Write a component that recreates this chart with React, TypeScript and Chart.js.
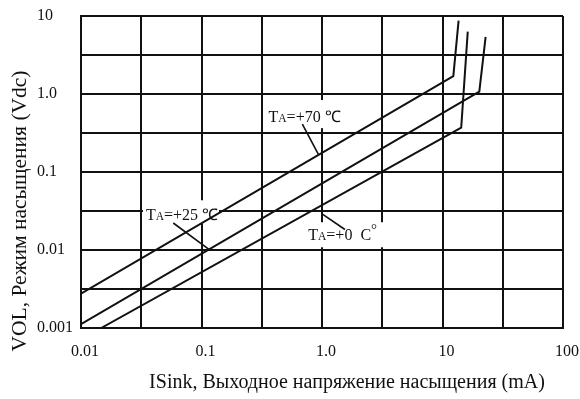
import React, { useEffect, useRef } from 'react';
import { Chart, registerables } from 'chart.js';

Chart.register(...registerables);

// Grid / tick positions (log scale, half-decade grid)
const xTickValues = [0.01, 0.0316, 0.1, 0.316, 1, 3.16, 10, 31.6, 100];
const xTickLabels = ['0.01', '', '0.1', '', '1.0', '', '10', '', '100'];
const yTickValues = [0.001, 0.00316, 0.01, 0.0316, 0.1, 0.316, 1, 3.16, 10];
const yTickLabels = ['0.001', '', '0.01', '', '0.1', '', '1.0', '', '10'];

// Series: ISink (mA) vs VOL (Vdc)
const seriesNames = ['TA=+70 ℃', 'TA=+25 ℃', 'TA=+0 ℃'];
const ta70I = [0.01, 12.3, 13.6];
const ta70V = [0.00275, 1.7, 8.7];
const ta25I = [0.01, 20.2, 22.8];
const ta25V = [0.00112, 1.07, 5.4];
const ta0I = [0.0147, 14.3, 16.2];
const ta0V = [0.001, 0.37, 6.3];

const xTitle = 'ISink, Выходное напряжение насыщения (mA)';
const yTitle = 'VOL, Режим насыщения (Vdc)';

// Annotation layout (in data coordinates)
const annotations = [
  { pre: 'T', sub: 'A', post: '=+70 ℃', deg: '', tx: 0.36, ty: 0.505, box: [0.343, 0.836, 1.55, 0.365], lead: [0.687, 0.411, 0.931, 0.17] },
  { pre: 'T', sub: 'A', post: '=+25 ℃', deg: '', tx: 0.0346, ty: 0.0279, box: [0.0327, 0.0434, 0.1397, 0.022], lead: [0.0583, 0.0222, 0.116, 0.0101] },
  { pre: 'T', sub: 'A', post: '=+0  C', deg: '°', tx: 0.769, ty: 0.01545, box: [0.723, 0.0227, 3.27, 0.01084], lead: [0.994, 0.0293, 1.55, 0.0183] },
];

const FONT = "'Liberation Serif', 'Times New Roman', serif";
const INK = '#111111';

const toXY = (xs: number[], ys: number[]) => xs.map((x, i) => ({ x, y: ys[i] }));

const annotPlugin = {
  id: 'annot',
  beforeDatasetsDraw(chart: any) {
    const { ctx, scales } = chart;
    const sx = scales.x, sy = scales.y;
    ctx.save();
    ctx.fillStyle = '#ffffff';
    annotations.forEach((a) => {
      const x0 = sx.getPixelForValue(a.box[0]);
      const y0 = sy.getPixelForValue(a.box[1]);
      const x1 = sx.getPixelForValue(a.box[2]);
      const y1 = sy.getPixelForValue(a.box[3]);
      ctx.fillRect(x0, y0, x1 - x0, y1 - y0);
    });
    ctx.restore();
  },
  afterDatasetsDraw(chart: any) {
    const { ctx, scales } = chart;
    const sx = scales.x, sy = scales.y;
    ctx.save();
    ctx.strokeStyle = INK;
    ctx.lineWidth = 1.6;
    ctx.fillStyle = INK;
    annotations.forEach((a) => {
      ctx.beginPath();
      ctx.moveTo(sx.getPixelForValue(a.lead[0]), sy.getPixelForValue(a.lead[1]));
      ctx.lineTo(sx.getPixelForValue(a.lead[2]), sy.getPixelForValue(a.lead[3]));
      ctx.stroke();
      let x = sx.getPixelForValue(a.tx);
      const y = sy.getPixelForValue(a.ty) + 5;
      ctx.textBaseline = 'alphabetic';
      ctx.textAlign = 'left';
      ctx.font = `16px ${FONT}`;
      ctx.fillText(a.pre, x, y);
      x += ctx.measureText(a.pre).width;
      ctx.font = `11.5px ${FONT}`;
      ctx.fillText(a.sub, x, y);
      x += ctx.measureText(a.sub).width;
      ctx.font = `16px ${FONT}`;
      ctx.fillText(a.post, x, y);
      x += ctx.measureText(a.post).width;
      if (a.deg) {
        ctx.font = `15px ${FONT}`;
        ctx.fillText(a.deg, x, y - 6);
      }
    });
    ctx.restore();
  },
  afterDraw(chart: any) {
    const { ctx, chartArea } = chart;
    ctx.save();
    ctx.fillStyle = INK;
    ctx.textAlign = 'center';
    ctx.textBaseline = 'middle';
    ctx.font = `20px ${FONT}`;
    ctx.fillText(xTitle, (chartArea.left + chartArea.right) / 2 + 25, 383);
    ctx.font = `21.5px ${FONT}`;
    ctx.translate(20, (chartArea.top + chartArea.bottom) / 2 + 39);
    ctx.rotate(-Math.PI / 2);
    ctx.fillText(yTitle, 0, 0);
    ctx.restore();
  },
};

export default function App() {
  const ref = useRef<HTMLCanvasElement | null>(null);
  useEffect(() => {
    if (!ref.current) return;
    const lineDs = (label: string, xs: number[], ys: number[]) => ({
      label,
      data: toXY(xs, ys),
      borderColor: INK,
      borderWidth: 2,
      pointRadius: 0,
      fill: false,
      tension: 0,
    });
    const chart = new Chart(ref.current, {
      type: 'line',
      data: {
        datasets: [
          lineDs(seriesNames[0], ta70I, ta70V),
          lineDs(seriesNames[1], ta25I, ta25V),
          lineDs(seriesNames[2], ta0I, ta0V),
        ],
      },
      options: {
        responsive: false,
        animation: false,
        layout: { padding: { left: 37, top: 16, right: 17, bottom: 0 } },
        plugins: { legend: { display: false }, tooltip: { enabled: false } },
        scales: {
          x: {
            type: 'logarithmic',
            min: 0.01,
            max: 100,
            afterBuildTicks: (s: any) => { s.ticks = xTickValues.map((v) => ({ value: v })); },
            afterFit: (s: any) => { s.height = 71; s.paddingLeft = 0; s.paddingRight = 0; },
            grid: { color: INK, lineWidth: 2, drawTicks: false },
            border: { color: INK, width: 2 },
            ticks: {
              autoSkip: false,
              maxRotation: 0,
              padding: 14,
              labelOffset: 4,
              color: INK,
              font: { family: FONT, size: 16 },
              callback: (_v: any, i: number) => xTickLabels[i],
            },
          },
          y: {
            type: 'logarithmic',
            min: 0.001,
            max: 10,
            afterBuildTicks: (s: any) => { s.ticks = yTickValues.map((v) => ({ value: v })); },
            afterFit: (s: any) => { s.width = 44; s.paddingTop = 0; s.paddingBottom = 0; },
            grid: { color: INK, lineWidth: 2, drawTicks: false },
            border: { color: INK, width: 2 },
            ticks: {
              autoSkip: false,
              crossAlign: 'far',
              color: INK,
              font: { family: FONT, size: 16 },
              callback: (_v: any, i: number) => yTickLabels[i],
            },
          },
        },
      },
      plugins: [annotPlugin],
    } as any);
    return () => chart.destroy();
  }, []);
  return (
    <div style={{ position: 'fixed', left: 0, top: 0, width: 580, height: 399, background: '#fff' }}>
      <canvas ref={ref} width={580} height={399} style={{ width: 580, height: 399 }} />
    </div>
  );
}
